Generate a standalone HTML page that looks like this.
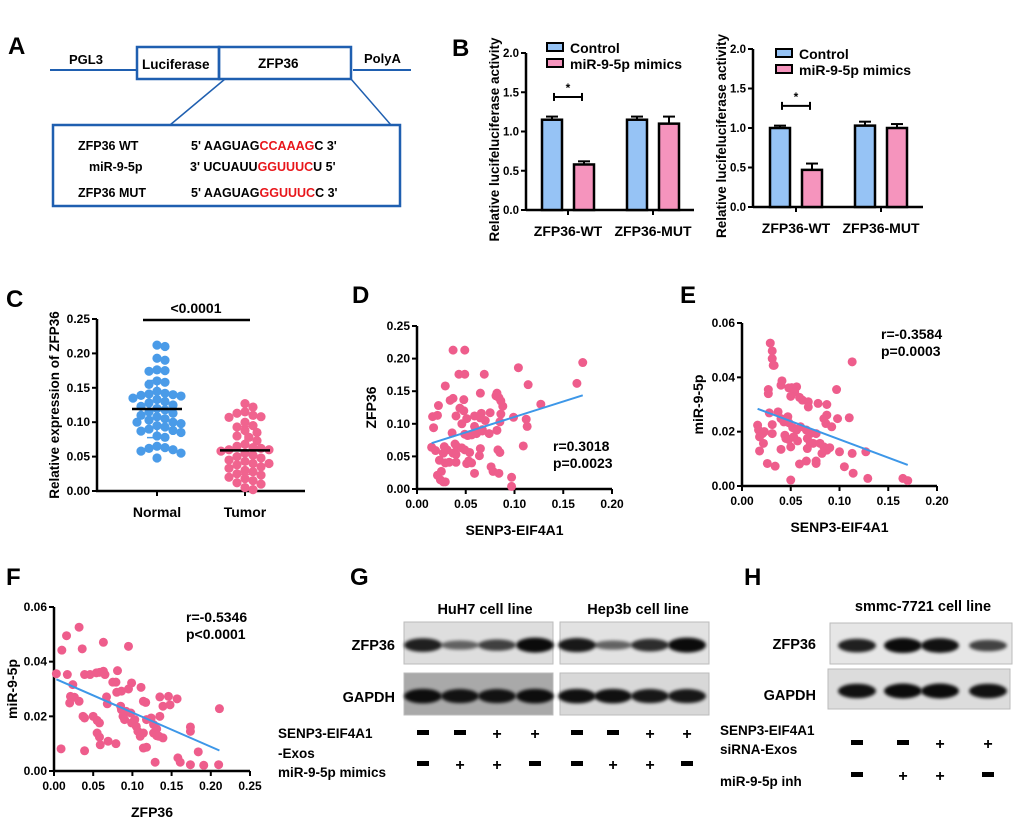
<!DOCTYPE html>
<html><head><meta charset="utf-8"><style>
html,body{margin:0;padding:0;background:#fff;}
svg{display:block;font-family:"Liberation Sans",Arial,sans-serif;font-weight:bold;}
</style></head><body>
<svg id="fig" width="1020" height="821" viewBox="0 0 1020 821">
<defs><filter id="blur" x="-20%" y="-50%" width="140%" height="200%"><feGaussianBlur stdDeviation="1.6"/></filter></defs>
<g fill="#000">
<text x="8" y="54" font-size="24">A</text>
<line x1="50" y1="70" x2="137" y2="70" stroke="#1f5fb0" stroke-width="2"/>
<line x1="353" y1="70" x2="411" y2="70" stroke="#1f5fb0" stroke-width="2"/>
<rect x="137" y="47" width="82" height="32" fill="none" stroke="#1f5fb0" stroke-width="2.5"/>
<rect x="219" y="47" width="132" height="32" fill="none" stroke="#1f5fb0" stroke-width="2.5"/>
<text x="69" y="64" font-size="13">PGL3</text>
<text x="142" y="69" font-size="13.5">Luciferase</text>
<text x="258" y="68" font-size="13.5">ZFP36</text>
<text x="364" y="63" font-size="13">PolyA</text>
<line x1="225" y1="79" x2="170" y2="125" stroke="#1f5fb0" stroke-width="1.5"/>
<line x1="351" y1="79" x2="391" y2="125" stroke="#1f5fb0" stroke-width="1.5"/>
<rect x="53" y="125" width="347" height="81" fill="none" stroke="#1f5fb0" stroke-width="2.5"/>
<g font-size="12.5">
<text x="78" y="150">ZFP36 WT</text>
<text x="89" y="171">miR-9-5p</text>
<text x="78" y="197">ZFP36 MUT</text>
<text x="191" y="150">5' AAGUAG<tspan fill="#e8161b">CCAAAG</tspan>C 3'</text>
<text x="190" y="171">3' UCUAUU<tspan fill="#e8161b">GGUUUC</tspan>U 5'</text>
<text x="191" y="197">5' AAGUAG<tspan fill="#e8161b">GGUUUC</tspan>C 3'</text>
</g>
</g>
<text x="452" y="56" font-size="24">B</text>
<text x="6" y="307" font-size="24">C</text>
<text x="352" y="303" font-size="24">D</text>
<text x="680" y="303" font-size="24">E</text>
<text x="6" y="585" font-size="24">F</text>
<text x="350" y="585" font-size="24">G</text>
<text x="744" y="585" font-size="24">H</text>
</svg>
<script>
const bGroups = ["ZFP36-WT", "ZFP36-MUT"];
const bSeries = ["Control", "miR-9-5p mimics"];
const b1Control = [1.15, 1.15];
const b1Mimics = [0.58, 1.10];
const b1ControlErr = [0.04, 0.04];
const b1MimicsErr = [0.04, 0.09];
const b2Control = [1.00, 1.03];
const b2Mimics = [0.47, 1.00];
const b2ControlErr = [0.03, 0.05];
const b2MimicsErr = [0.08, 0.05];
const bTicks = [0, 0.5, 1.0, 1.5, 2.0];
const cGroups = ["Normal", "Tumor"];
const cNormal = [0.212,0.21,0.193,0.19,0.176,0.175,0.174,0.16,0.158,0.155,0.145,0.142,0.141,0.14,0.139,0.138,0.135,0.133,0.13,0.128,0.125,0.123,0.12,0.118,0.115,0.113,0.11,0.108,0.105,0.103,0.1,0.1,0.098,0.095,0.093,0.09,0.088,0.087,0.085,0.08,0.078,0.065,0.063,0.062,0.06,0.058,0.055,0.048];
const cTumor = [0.127,0.122,0.115,0.113,0.11,0.108,0.107,0.1,0.095,0.093,0.088,0.085,0.08,0.078,0.073,0.068,0.065,0.063,0.062,0.06,0.06,0.058,0.055,0.052,0.05,0.048,0.045,0.043,0.04,0.04,0.038,0.035,0.033,0.03,0.028,0.025,0.023,0.02,0.018,0.015,0.012,0.01,0.005,0.002];
const cTicks = [0, 0.05, 0.10, 0.15, 0.20, 0.25];
const dX = [.037,.049,.104,.170,.043,.049,.069,.164,.114,.029,.065,.082,.037,.034,.048,.081,.084,.086,.088,.022,.044,.048,.127,.066,.075,.086,.016,.021,.040,.051,.059,.065,.070,.099,.112,.017,.046,.059,.067,.085,.113,.036,.049,.052,.056,.061,.067,.074,.082,.015,.019,.028,.031,.039,.041,.046,.049,.054,.027,.037,.040,.023,.029,.033,.040,.051,.053,.056,.065,.064,.083,.085,.109,.076,.078,.084,.097,.097,.021,.024,.027,.029,.025,.059];
const dY = [.213,.213,.186,.194,.176,.176,.176,.162,.160,.158,.147,.147,.139,.136,.137,.143,.140,.135,.127,.128,.124,.120,.130,.116,.117,.115,.111,.113,.112,.108,.112,.109,.105,.110,.107,.094,.100,.096,.091,.103,.096,.086,.084,.082,.083,.085,.089,.085,.090,.064,.059,.065,.060,.069,.065,.063,.060,.056,.055,.055,.053,.044,.040,.041,.041,.039,.043,.040,.062,.051,.060,.056,.066,.034,.027,.024,.018,.004,.021,.014,.011,.011,.027,.024];
const dXTicks = [0, 0.05, 0.10, 0.15, 0.20];
const dYTicks = [0, 0.05, 0.10, 0.15, 0.20, 0.25];
const eX = [.029,.031,.031,.032,.033,.113,.027,.027,.041,.040,.048,.051,.056,.054,.050,.059,.062,.068,.068,.078,.087,.097,.028,.037,.040,.043,.047,.048,.052,.056,.060,.066,.070,.076,.084,.086,.087,.092,.098,.110,.016,.017,.021,.023,.018,.022,.044,.045,.048,.050,.053,.057,.067,.070,.073,.080,.084,.087,.090,.082,.100,.113,.127,.018,.026,.034,.059,.066,.076,.076,.105,.114,.129,.165,.170,.050,.040,.067,.031,.031];
const eY = [.0526,.0497,.0469,.0444,.0444,.0457,.0355,.0340,.0387,.0371,.0361,.0362,.0365,.0346,.0330,.0326,.0316,.0310,.0291,.0304,.0300,.0355,.0269,.0273,.0248,.0236,.0255,.0233,.0215,.0206,.0218,.0206,.0193,.0193,.0248,.0230,.0261,.0218,.0248,.0251,.0224,.0206,.0193,.0200,.0181,.0157,.0187,.0175,.0171,.0144,.0181,.0166,.0175,.0159,.0157,.0157,.0144,.0132,.0141,.0120,.0126,.0120,.0126,.0129,.0083,.0073,.0081,.0092,.0092,.0083,.0071,.0047,.0028,.0028,.0020,.0022,.0135,.0138,.0226,.0193];
const eXTicks = [0, 0.05, 0.10, 0.15, 0.20];
const eYTicks = [0, 0.02, 0.04, 0.06];
const fX = [.003,.010,.016,.017,.020,.024,.032,.036,.039,.046,.021,.026,.032,.037,.039,.050,.055,.058,.054,.058,.063,.065,.063,.081,.079,.080,.095,.085,.086,.088,.090,.092,.098,.101,.099,.095,.086,.111,.114,.117,.099,.103,.105,.107,.110,.114,.118,.124,.127,.131,.135,.139,.135,.146,.157,.148,.127,.131,.134,.139,.068,.058,.055,.059,.069,.079,.009,.039,.114,.118,.129,.158,.161,.174,.174,.184,.174,.191,.210,.211,.067,.075];
const fY = [.0356,.0442,.0495,.0353,.0249,.0316,.0526,.0447,.0353,.0353,.0273,.0270,.0255,.0200,.0194,.0200,.0185,.0176,.0359,.0361,.0365,.0353,.0471,.0367,.0325,.0288,.0456,.0237,.0224,.0200,.0188,.0218,.0212,.0178,.0322,.0300,.0292,.0306,.0255,.0251,.0176,.0188,.0163,.0145,.0127,.0139,.0188,.0194,.0170,.0154,.0200,.0237,.0271,.0273,.0264,.0242,.0139,.0129,.0127,.0121,.0246,.0124,.0139,.0096,.0109,.0100,.0081,.0074,.0084,.0087,.0032,.0048,.0032,.0161,.0145,.0070,.0023,.0021,.0023,.0228,.0271,.0325];
const fXTicks = [0, 0.05, 0.10, 0.15, 0.20, 0.25];
const fYTicks = [0, 0.02, 0.04, 0.06];
const gHuh7Zfp = [0.85, 0.35, 0.6, 1.0];
const gHuh7Gapdh = [0.95, 0.9, 0.9, 0.95];
const gHep3bZfp = [0.9, 0.35, 0.75, 1.0];
const gHep3bGapdh = [0.95, 0.95, 0.9, 0.9];
const gExos = ["-", "-", "+", "+"];
const gMimics = ["-", "+", "+", "-"];
const hZfp = [0.85, 1.0, 0.95, 0.6];
const hGapdh = [0.95, 1.0, 1.0, 0.95];
const hSirna = ["-", "-", "+", "+"];
const hInh = ["-", "+", "+", "-"];

const NS = "http://www.w3.org/2000/svg";
const svg = document.getElementById("fig");
function mk(tag, attrs, name, parent) {
  const el = document.createElementNS(NS, tag);
  for (const k in attrs) el.setAttribute(k, attrs[k]);
  
  
  (parent || svg).appendChild(el);
  return el;
}
function txt(x, y, s, size, name, parent, anchor, extra) {
  const t = mk("text", Object.assign({x: x, y: y, "font-size": size, "text-anchor": anchor || "start"}, extra || {}), name, parent);
  t.textContent = s;
  return t;
}
function lin(domain, range) { return v => range[0] + (v - domain[0]) * (range[1] - range[0]) / (domain[1] - domain[0]); }
function fmt(v, d) { return v.toFixed(d); }

function yAxis(g, x, y, ticks, dec, size) {
  mk("line", {x1: x, y1: y(ticks[0]) + 1, x2: x, y2: y(ticks[ticks.length - 1]), stroke: "#000", "stroke-width": 2.5}, "y-axis-line", g);
  ticks.forEach(t => {
    mk("line", {x1: x - 5, y1: y(t), x2: x, y2: y(t), stroke: "#000", "stroke-width": 2}, "y-tick", g);
    txt(x - 7, y(t) + 4, fmt(t, dec), size || 12, "y-tick-label", g, "end");
  });
}
function xAxis(g, y, x, ticks, dec) {
  mk("line", {x1: x(ticks[0]) - 1, y1: y, x2: x(ticks[ticks.length - 1]), y2: y, stroke: "#000", "stroke-width": 2.5}, "x-axis-line", g);
  ticks.forEach(t => {
    mk("line", {x1: x(t), y1: y, x2: x(t), y2: y + 5, stroke: "#000", "stroke-width": 2}, "x-tick", g);
    txt(x(t), y + 19, fmt(t, dec), 12, "x-tick-label", g, "middle");
  });
}

function barChart(cfg) {
  const g = mk("g", {}, cfg.name);
  const y = lin([0, 2], [cfg.y0, cfg.y2]);
  yAxis(g, cfg.ax, y, bTicks, 1, 11.5);
  mk("line", {x1: cfg.ax, y1: cfg.y0, x2: cfg.axEnd, y2: cfg.y0, stroke: "#000", "stroke-width": 2.5}, "x-axis-line", g);
  const cols = ["#96c3f5", "#f594bd"];
  const vals = [cfg.c, cfg.m], errs = [cfg.ce, cfg.me];
  bGroups.forEach((grp, gi) => {
    const gx = cfg.gx[gi];
    mk("line", {x1: gx, y1: cfg.y0, x2: gx, y2: cfg.y0 + 5, stroke: "#000", "stroke-width": 2}, "x-tick", g);
    txt(gx, cfg.y0 + 26, grp, 14, "x-category-label", g, "middle");
    [0, 1].forEach(si => {
      const cx = gx + (si === 0 ? -16 : 16);
      const v = vals[si][gi], e = errs[si][gi];
      mk("line", {x1: cx, y1: y(v), x2: cx, y2: y(v + e), stroke: "#000", "stroke-width": 2}, "error-bar", g);
      mk("line", {x1: cx - 6, y1: y(v + e), x2: cx + 6, y2: y(v + e), stroke: "#000", "stroke-width": 2}, "error-cap", g);
      mk("rect", {x: cx - 10, y: y(v), width: 20, height: y(0) - y(v), fill: cols[si], stroke: "#000", "stroke-width": 2.5}, "bar-" + grp.toLowerCase() + "-" + (si ? "mimics" : "control"), g);
    });
  });
  const gx0 = cfg.gx[0];
  const top = y(Math.max(vals[0][0] + errs[0][0], vals[1][0] + errs[1][0]) + 0.25);
  mk("line", {x1: gx0 - 14, y1: top, x2: gx0 + 14, y2: top, stroke: "#000", "stroke-width": 2}, "significance-bracket", g);
  mk("line", {x1: gx0 - 14, y1: top - 4, x2: gx0 - 14, y2: top + 4, stroke: "#000", "stroke-width": 2}, "significance-end", g);
  mk("line", {x1: gx0 + 14, y1: top - 4, x2: gx0 + 14, y2: top + 4, stroke: "#000", "stroke-width": 2}, "significance-end", g);
  txt(gx0, top - 5, "*", 12, "significance-star", g, "middle");
  bSeries.forEach((s, i) => {
    mk("rect", {x: cfg.lx, y: cfg.ly + i * 16, width: 16, height: 8, fill: cols[i], stroke: "#000", "stroke-width": 2}, "legend-swatch", g);
    txt(cfg.lx + 23, cfg.ly + 10 + i * 16, s, 14, "legend-entry", g);
  });
  txt(0, 0, "Relative lucifeluciferase activity", 13.5, "y-axis-title", g, "middle", {transform: `translate(${cfg.tx},${(cfg.y0 + cfg.y2) / 2 + 8}) rotate(-90)`});
}
barChart({name: "bar-chart-1", ax: 526, axEnd: 694, y0: 210, y2: 53, gx: [568, 653], c: b1Control, m: b1Mimics, ce: b1ControlErr, me: b1MimicsErr, lx: 547, ly: 43, tx: 499});
barChart({name: "bar-chart-2", ax: 753, axEnd: 923, y0: 207, y2: 49, gx: [796, 881], c: b2Control, m: b2Mimics, ce: b2ControlErr, me: b2MimicsErr, lx: 776, ly: 49, tx: 726});

(function () {
  const g = mk("g", {}, "dot-plot-c");
  const y = lin([0, 0.25], [491, 319]);
  yAxis(g, 97, y, cTicks, 2, 12);
  mk("line", {x1: 96, y1: 491, x2: 305, y2: 491, stroke: "#000", "stroke-width": 2.5}, "x-axis-line", g);
  const centers = [157, 245];
  const colors = ["#4a9be8", "#f0648f"];
  [cNormal, cTumor].forEach((arr, gi) => {
    const cx = centers[gi];
    mk("line", {x1: cx, y1: 491, x2: cx, y2: 496, stroke: "#000", "stroke-width": 2}, "x-tick", g);
    txt(cx, 517, cGroups[gi], 14, "x-category-label", g, "middle");
    const placed = [];
    const sorted = arr.slice().sort((a, b) => b - a);
    sorted.forEach(v => {
      const py = y(v);
      let off = 0;
      for (let k = 0; k < 40; k++) {
        const cand = (k % 2 ? 1 : -1) * Math.ceil(k / 2) * 4;
        if (placed.every(p => Math.hypot(p[0] - cand, p[1] - py) >= 7.5)) { off = cand; break; }
      }
      placed.push([off, py]);
      mk("circle", {cx: cx + off, cy: py, r: 4.6, fill: colors[gi]}, "point-" + cGroups[gi].toLowerCase(), g);
    });
    const mean = arr.reduce((a, b) => a + b, 0) / arr.length;
    const sd = Math.sqrt(arr.reduce((a, b) => a + (b - mean) ** 2, 0) / (arr.length - 1));
    mk("line", {x1: cx, y1: y(mean - sd), x2: cx, y2: y(mean + sd), stroke: colors[gi], "stroke-width": 1.5}, "sd-bar", g);
    mk("line", {x1: cx - 10, y1: y(mean + sd), x2: cx + 10, y2: y(mean + sd), stroke: colors[gi], "stroke-width": 1.5}, "sd-cap", g);
    mk("line", {x1: cx - 10, y1: y(mean - sd), x2: cx + 10, y2: y(mean - sd), stroke: colors[gi], "stroke-width": 1.5}, "sd-cap", g);
    mk("line", {x1: cx - 25, y1: y(mean), x2: cx + 25, y2: y(mean), stroke: "#000", "stroke-width": 2.5}, "mean-line", g);
  });
  mk("line", {x1: 143, y1: 320, x2: 250, y2: 320, stroke: "#000", "stroke-width": 2.5}, "significance-line", g);
  txt(196, 313, "<0.0001", 14, "p-value-label", g, "middle");
  txt(0, 0, "Relative expression of ZFP36", 13.5, "y-axis-title", g, "middle", {transform: "translate(59,405) rotate(-90)"});
})();

function scatter(cfg) {
  const g = mk("g", {}, cfg.name);
  const xs = cfg.xt, ys = cfg.yt;
  const x = lin([xs[0], xs[xs.length - 1]], cfg.xr);
  const y = lin([ys[0], ys[ys.length - 1]], cfg.yr);
  yAxis(g, cfg.xr[0], y, ys, 2, 12);
  xAxis(g, cfg.yr[0], x, xs, 2);
  cfg.X.forEach((xv, i) => {
    mk("circle", {cx: x(xv), cy: y(cfg.Y[i]), r: 4.5, fill: "#ee5d8c"}, "scatter-point", g);
  });
  const n = cfg.X.length;
  const mx = cfg.X.reduce((a, b) => a + b, 0) / n, my = cfg.Y.reduce((a, b) => a + b, 0) / n;
  let sxy = 0, sxx = 0;
  cfg.X.forEach((xv, i) => { sxy += (xv - mx) * (cfg.Y[i] - my); sxx += (xv - mx) ** 2; });
  const b = sxy / sxx, a = my - b * mx;
  const x0 = Math.min(...cfg.X), x1 = Math.max(...cfg.X);
  mk("line", {x1: x(x0), y1: y(a + b * x0), x2: x(x1), y2: y(a + b * x1), stroke: "#3d97e8", "stroke-width": 2}, "regression-line", g);
  txt(cfg.sx, cfg.sy, cfg.r, 14, "correlation-r", g);
  txt(cfg.sx, cfg.sy + 17, cfg.p, 14, "correlation-p", g);
  txt((cfg.xr[0] + cfg.xr[1]) / 2, cfg.yr[0] + 46, cfg.xl, 14, "x-axis-title", g, "middle");
  txt(0, 0, cfg.yl, 14, "y-axis-title", g, "middle", {transform: `translate(${cfg.ylx},${(cfg.yr[0] + cfg.yr[1]) / 2}) rotate(-90)`});
}
scatter({name: "scatter-d", X: dX, Y: dY, xt: dXTicks, yt: dYTicks, xr: [417, 612], yr: [489, 326], sx: 553, sy: 451, r: "r=0.3018", p: "p=0.0023", xl: "SENP3-EIF4A1", yl: "ZFP36", ylx: 376});
scatter({name: "scatter-e", X: eX, Y: eY, xt: eXTicks, yt: eYTicks, xr: [742, 937], yr: [486, 323], sx: 881, sy: 339, r: "r=-0.3584", p: "p=0.0003", xl: "SENP3-EIF4A1", yl: "miR-9-5p", ylx: 703});
scatter({name: "scatter-f", X: fX, Y: fY, xt: fXTicks, yt: fYTicks, xr: [54, 250], yr: [771, 607], sx: 186, sy: 622, r: "r=-0.5346", p: "p<0.0001", xl: "ZFP36", yl: "miR-9-5p", ylx: 17});

function blot(g, x, y, w, h, lanes, intens, bg, name) {
  mk("rect", {x: x, y: y, width: w, height: h, fill: bg, stroke: "#bbb", "stroke-width": 1}, name, g);
  lanes.forEach((lx, i) => {
    const k = intens[i];
    mk("ellipse", {cx: lx, cy: y + h * 0.55, rx: 19, ry: 3 + 4.5 * k, fill: "#000", opacity: 0.35 + 0.6 * k, filter: "url(#blur)"}, "band", g);
  });
}
function signs(g, lanes, arr, yy, name) {
  lanes.forEach((lx, i) => {
    if (arr[i] === "+") txt(lx, yy + 6, "+", 16, name, g, "middle");
    else mk("rect", {x: lx - 6, y: yy - 3, width: 12, height: 5, fill: "#000"}, name, g);
  });
}
(function () {
  const g = mk("g", {}, "western-blot-g");
  const l1 = [423, 460, 497, 535], l2 = [577, 613, 650, 687];
  txt(485, 614, "HuH7 cell line", 14.5, "huh7-title", g, "middle");
  txt(638, 614, "Hep3b cell line", 14.5, "hep3b-title", g, "middle");
  txt(395, 650, "ZFP36", 14.5, "zfp36-row-label", g, "end");
  txt(395, 702, "GAPDH", 14.5, "gapdh-row-label", g, "end");
  blot(g, 404, 622, 149, 42, l1, gHuh7Zfp, "#dedede", "huh7-zfp36-blot");
  blot(g, 560, 622, 149, 42, l2, gHep3bZfp, "#e2e2e2", "hep3b-zfp36-blot");
  blot(g, 404, 673, 149, 42, l1, gHuh7Gapdh, "#a9a9a9", "huh7-gapdh-blot");
  blot(g, 560, 673, 149, 42, l2, gHep3bGapdh, "#d8d8d8", "hep3b-gapdh-blot");
  txt(278, 738, "SENP3-EIF4A1", 13.5, "exos-label", g);
  txt(278, 758, "-Exos", 13.5, "exos-label-2", g);
  txt(278, 777, "miR-9-5p mimics", 13.5, "mimics-label", g);
  signs(g, l1.concat(l2), gExos.concat(gExos), 733, "exos-sign");
  signs(g, l1.concat(l2), gMimics.concat(gMimics), 764, "mimics-sign");
})();
(function () {
  const g = mk("g", {}, "western-blot-h");
  const l = [857, 903, 940, 988];
  txt(923, 611, "smmc-7721 cell line", 14.5, "smmc-title", g, "middle");
  txt(816, 649, "ZFP36", 14.5, "zfp36-row-label", g, "end");
  txt(816, 700, "GAPDH", 14.5, "gapdh-row-label", g, "end");
  blot(g, 830, 623, 182, 41, l, hZfp, "#e6e6e6", "smmc-zfp36-blot");
  blot(g, 828, 669, 182, 40, l, hGapdh, "#dcdcdc", "smmc-gapdh-blot");
  txt(720, 735, "SENP3-EIF4A1", 13.5, "sirna-label", g);
  txt(720, 754, "siRNA-Exos", 13.5, "sirna-label-2", g);
  txt(720, 786, "miR-9-5p  inh", 13.5, "inhibitor-label", g);
  signs(g, l, hSirna, 743, "sirna-sign");
  signs(g, l, hInh, 775, "inhibitor-sign");
})();
</script>
</body></html>
